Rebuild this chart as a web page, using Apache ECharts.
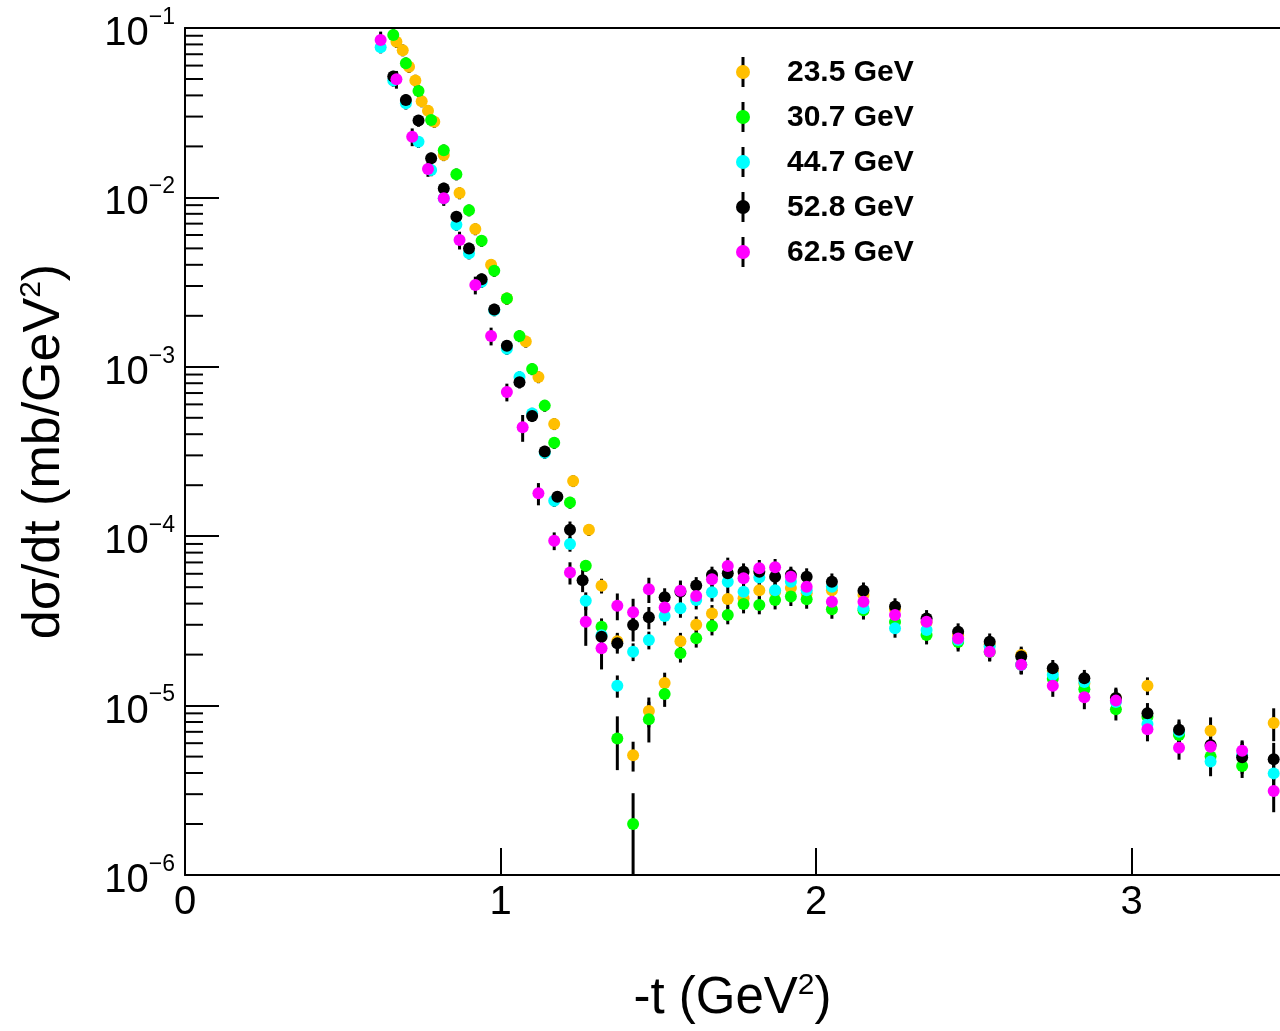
<!DOCTYPE html>
<html>
<head>
<meta charset="utf-8">
<script src="https://cdn.jsdelivr.net/npm/echarts@6/dist/echarts.min.js"></script>
<style>
  html, body { margin: 0; padding: 0; background: #fff; }
  #chart { width: 1280px; height: 1031px; }
</style>
</head>
<body>
<div id="chart"></div>
<script>
// energies and colours (legend order = draw order)
const names = ["23.5 GeV", "30.7 GeV", "44.7 GeV", "52.8 GeV", "62.5 GeV"];
const colors = ["#ffbf00", "#00ff00", "#00ffff", "#000000", "#ff00ff"];

// -t (GeV^2), dsigma/dt (mb/GeV^2), relative error
const t235 = [0.67, 0.69, 0.71, 0.73, 0.75, 0.77, 0.79, 0.82, 0.87, 0.92, 0.97, 1.02,
  1.08, 1.12, 1.17, 1.23, 1.28, 1.32, 1.37, 1.42, 1.47, 1.52, 1.57, 1.62, 1.67, 1.72, 1.77,
  1.82, 1.87, 1.92, 1.97, 2.05, 2.15, 2.25, 2.35, 2.45, 2.55, 2.65, 2.75, 2.85, 2.95, 3.05,
  3.15, 3.25, 3.45];
const y235 = [8.3e-2, 7.4e-2, 5.9e-2, 4.9e-2, 3.7e-2, 3.25e-2, 2.8e-2, 1.78e-2, 1.06e-2, 6.5e-3, 4.0e-3, 2.53e-3,
  1.41e-3, 8.7e-4, 4.6e-4, 2.12e-4, 1.09e-4, 5.1e-5, 2.4e-5, 5.1e-6, 9.3e-6, 1.36e-5, 2.4e-5, 3.0e-5, 3.5e-5, 4.26e-5, 4.3e-5,
  4.8e-5, 4.7e-5, 4.94e-5, 4.6e-5, 4.8e-5, 4.5e-5, 3.7e-5, 3.1e-5, 2.6e-5, 2.3e-5, 1.99e-5, 1.6e-5, 1.35e-5, 1.1e-5, 1.31e-5,
  6.8e-6, 7.1e-6, 7.9e-6];
const e235 = [.08, .08, .08, .08, .08, .08, .08, .08, .08, .08, .08, .08,
  .08, .08, .08, .08, .08, .1, .12, .2, .2, .15, .12, .12, .12, .12, .12,
  .12, .12, .12, .12, .12, .12, .12, .12, .12, .12, .12, .12, .14, .14, .12,
  .15, .2, .22];

const t307 = [0.66, 0.70, 0.74, 0.78, 0.82, 0.86, 0.90, 0.94, 0.98, 1.02, 1.06, 1.10,
  1.14, 1.17, 1.22, 1.27, 1.32, 1.37, 1.42, 1.47, 1.52, 1.57, 1.62, 1.67, 1.72, 1.77, 1.82,
  1.87, 1.92, 1.97, 2.05, 2.15, 2.25, 2.35, 2.45, 2.55, 2.65, 2.75, 2.85, 2.95, 3.05, 3.15,
  3.25, 3.35];
const y307 = [9.1e-2, 6.2e-2, 4.25e-2, 2.86e-2, 1.9e-2, 1.37e-2, 8.4e-3, 5.55e-3, 3.69e-3, 2.53e-3, 1.52e-3, 9.7e-4,
  5.9e-4, 3.56e-4, 1.58e-4, 6.7e-5, 2.92e-5, 6.4e-6, 2.0e-6, 8.3e-6, 1.17e-5, 2.04e-5, 2.5e-5, 2.95e-5, 3.43e-5, 3.98e-5, 3.93e-5,
  4.2e-5, 4.4e-5, 4.24e-5, 3.7e-5, 3.66e-5, 3.12e-5, 2.61e-5, 2.37e-5, 2.07e-5, 1.74e-5, 1.44e-5, 1.25e-5, 9.5e-6, 8.6e-6, 6.7e-6,
  5.0e-6, 4.4e-6];
const e307 = [.08, .08, .08, .08, .08, .08, .08, .08, .08, .08, .08, .08,
  .08, .08, .08, .08, .12, .35, .52, .27, .16, .12, .12, .12, .12, .12, .12,
  .12, .12, .12, .12, .12, .12, .12, .12, .12, .12, .12, .12, .14, .14, .15,
  .15, .15];

const t447 = [0.62, 0.66, 0.70, 0.74, 0.78, 0.82, 0.86, 0.90, 0.94, 0.98, 1.02, 1.06,
  1.10, 1.14, 1.17, 1.22, 1.27, 1.32, 1.37, 1.42, 1.47, 1.52, 1.57, 1.62, 1.67, 1.72, 1.77,
  1.82, 1.87, 1.92, 1.97, 2.05, 2.15, 2.25, 2.35, 2.45, 2.55, 2.65, 2.75, 2.85, 2.95, 3.05,
  3.15, 3.25, 3.35, 3.45];
const y447 = [7.7e-2, 4.9e-2, 3.59e-2, 2.13e-2, 1.45e-2, 9.9e-3, 6.9e-3, 4.68e-3, 3.18e-3, 2.16e-3, 1.28e-3, 8.7e-4,
  5.3e-4, 3.11e-4, 1.62e-4, 9.0e-5, 4.16e-5, 2.6e-5, 1.31e-5, 2.08e-5, 2.44e-5, 3.38e-5, 3.75e-5, 4.2e-5, 4.67e-5, 5.38e-5, 4.7e-5,
  5.7e-5, 4.8e-5, 5.38e-5, 4.8e-5, 5.03e-5, 3.75e-5, 2.86e-5, 2.79e-5, 2.44e-5, 2.23e-5, 1.74e-5, 1.52e-5, 1.38e-5, 1.05e-5, 7.8e-6,
  7.0e-6, 4.67e-6, 5.1e-6, 3.98e-6];
const e447 = [.08, .08, .08, .08, .08, .08, .08, .08, .08, .08, .08, .08,
  .08, .08, .08, .1, .12, .15, .15, .12, .12, .12, .12, .12, .12, .12, .12,
  .12, .12, .12, .12, .12, .12, .12, .12, .12, .12, .12, .12, .14, .14, .15,
  .15, .18, .2, .25];

const t528 = [0.66, 0.70, 0.74, 0.78, 0.82, 0.86, 0.90, 0.94, 0.98, 1.02, 1.06, 1.10,
  1.14, 1.18, 1.22, 1.26, 1.32, 1.37, 1.42, 1.47, 1.52, 1.57, 1.62, 1.67, 1.72, 1.77, 1.82,
  1.87, 1.92, 1.97, 2.05, 2.15, 2.25, 2.35, 2.45, 2.55, 2.65, 2.75, 2.85, 2.95, 3.05, 3.15,
  3.25, 3.35, 3.45];
const y528 = [5.17e-2, 3.76e-2, 2.84e-2, 1.7e-2, 1.13e-2, 7.7e-3, 5.0e-3, 3.29e-3, 2.18e-3, 1.33e-3, 8.1e-4, 5.13e-4,
  3.16e-4, 1.71e-4, 1.09e-4, 5.5e-5, 2.55e-5, 2.33e-5, 2.99e-5, 3.32e-5, 4.36e-5, 4.7e-5, 5.12e-5, 5.9e-5, 6.04e-5, 6.17e-5, 6.17e-5,
  5.77e-5, 5.9e-5, 5.77e-5, 5.38e-5, 4.76e-5, 3.84e-5, 3.27e-5, 2.73e-5, 2.38e-5, 1.95e-5, 1.66e-5, 1.45e-5, 1.11e-5, 9.0e-6, 7.2e-6,
  5.85e-6, 4.95e-6, 4.82e-6];
const e528 = [.08, .08, .08, .08, .08, .08, .08, .08, .08, .08, .08, .08,
  .08, .08, .12, .15, .2, .13, .2, .15, .13, .12, .12, .12, .12, .12, .12,
  .12, .12, .12, .12, .12, .12, .12, .12, .12, .12, .12, .12, .15, .15, .15,
  .15, .2, .25];

const t625 = [0.62, 0.67, 0.72, 0.77, 0.82, 0.87, 0.92, 0.97, 1.02, 1.07, 1.12, 1.17,
  1.22, 1.27, 1.32, 1.37, 1.42, 1.47, 1.52, 1.57, 1.62, 1.67, 1.72, 1.77, 1.82, 1.87, 1.92,
  1.97, 2.05, 2.15, 2.25, 2.35, 2.45, 2.55, 2.65, 2.75, 2.85, 2.95, 3.05, 3.15, 3.25, 3.35,
  3.45];
const y625 = [8.5e-2, 4.98e-2, 2.28e-2, 1.47e-2, 9.9e-3, 5.6e-3, 3.04e-3, 1.52e-3, 7.1e-4, 4.4e-4, 1.79e-4, 9.4e-5,
  6.1e-5, 3.13e-5, 2.18e-5, 3.89e-5, 3.56e-5, 4.86e-5, 3.79e-5, 4.76e-5, 4.44e-5, 5.57e-5, 6.67e-5, 5.64e-5, 6.46e-5, 6.55e-5, 5.77e-5,
  5.03e-5, 4.1e-5, 4.1e-5, 3.43e-5, 3.13e-5, 2.49e-5, 2.08e-5, 1.74e-5, 1.31e-5, 1.12e-5, 1.07e-5, 7.24e-6, 5.64e-6, 5.71e-6, 5.42e-6,
  3.13e-6];
const e625 = [.12, .12, .12, .1, .1, .12, .12, .12, .12, .18, .15, .12,
  .15, .28, .25, .18, .2, .17, .15, .15, .12, .12, .12, .12, .12, .12, .12,
  .12, .12, .12, .12, .12, .12, .12, .12, .14, .15, .15, .15, .15, .15, .15,
  .25];

const tSets = [t235, t307, t447, t528, t625];
const ySets = [y235, y307, y447, y528, y625];
const eSets = [e235, e307, e447, e528, e625];

// axis ticks
const xTicks = [0, 1, 2, 3];
const xMin = 0, xMax = 3.47;
const yMin = 1e-6, yMax = 1e-1;
const minorMult = [2, 3, 4, 5, 6, 7, 8, 9];
const minorTicks = [];
for (let d = -6; d < -1; d++) {
  minorMult.forEach(m => minorTicks.push([0, m * Math.pow(10, d)]));
}

const font = "'Liberation Sans', Arial, Helvetica, sans-serif";

const series = [];
names.forEach((name, i) => {
  const pts = tSets[i].map((t, k) => [t, ySets[i][k], eSets[i][k]]);
  series.push({
    type: "custom",
    name: name + " err",
    coordinateSystem: "cartesian2d",
    clip: true,
    silent: true,
    data: pts,
    renderItem: (params, api) => {
      const x = api.value(0), y = api.value(1), e = api.value(2);
      const lo = api.coord([x, y * (1 - e)]);
      const hi = api.coord([x, y * (1 + e)]);
      return {
        type: "line",
        shape: { x1: lo[0], y1: lo[1], x2: hi[0], y2: hi[1] },
        style: { stroke: "#000", lineWidth: 3 },
      };
    },
  });
  series.push({
    type: "scatter",
    name: name,
    data: pts.map(p => [p[0], p[1]]),
    symbol: "circle",
    symbolSize: 12,
    itemStyle: { color: colors[i], opacity: 1 },
    silent: true,
  });
});

// minor ticks on the log axis (2..9 per decade)
series.push({
  type: "custom",
  coordinateSystem: "cartesian2d",
  silent: true,
  data: minorTicks,
  renderItem: (params, api) => {
    const p = api.coord([api.value(0), api.value(1)]);
    return {
      type: "line",
      shape: { x1: p[0], y1: p[1], x2: p[0] + 18, y2: p[1] },
      style: { stroke: "#000", lineWidth: 2 },
    };
  },
});

// legend drawn as graphic (black error bar + coloured dot + text)
const legendGraphic = [];
names.forEach((name, i) => {
  const cy = 72 + 45 * i;
  legendGraphic.push({
    type: "line",
    shape: { x1: 743, y1: cy - 15, x2: 743, y2: cy + 15 },
    style: { stroke: "#000", lineWidth: 3 },
    z: 100,
  });
  legendGraphic.push({
    type: "circle",
    shape: { cx: 743, cy: cy, r: 7 },
    style: { fill: colors[i] },
    z: 101,
  });
  legendGraphic.push({
    type: "text",
    x: 787,
    y: cy + 1,
    style: {
      text: name,
      font: "bold 30px " + font,
      fill: "#000",
      verticalAlign: "middle",
      align: "left",
    },
    z: 101,
  });
});

const option = {
  animation: false,
  backgroundColor: "#fff",
  textStyle: { fontFamily: font },
  grid: { left: 185, top: 28, right: 0, bottom: 156 },
  xAxis: [{
    type: "value",
    min: xMin, max: xMax, interval: 1,
    axisLine: { show: true, onZero: false, lineStyle: { color: "#000", width: 2 } },
    axisTick: { show: true, inside: true, length: 27, lineStyle: { color: "#000", width: 2 } },
    axisLabel: {
      color: "#000", fontSize: 40, margin: 8, fontFamily: font,
      showMaxLabel: false,
      formatter: v => (xTicks.includes(v) ? String(v) : ""),
    },
    splitLine: { show: false },
    name: "{n|-t (GeV}{s|2}{n|)}",
    nameLocation: "middle",
    nameGap: 96,
    nameTextStyle: {
      rich: {
        n: { fontSize: 51, fontFamily: font, color: "#000", lineHeight: 56 },
        s: { fontSize: 30, fontFamily: font, color: "#000", lineHeight: 30, verticalAlign: "top" },
      },
    },
  }, {
    // top frame line
    type: "value",
    position: "top",
    min: xMin, max: xMax,
    axisLine: { show: true, onZero: false, lineStyle: { color: "#000", width: 2 } },
    axisTick: { show: false },
    axisLabel: { show: false },
    splitLine: { show: false },
  }],
  yAxis: {
    type: "log",
    logBase: 10,
    min: yMin, max: yMax,
    axisLine: { show: true, onZero: false, lineStyle: { color: "#000", width: 2 } },
    axisTick: { show: true, inside: true, length: 34, lineStyle: { color: "#000", width: 2 } },
    axisLabel: {
      color: "#000", margin: 10,
      formatter: v => {
        const p = Math.round(Math.log10(v));
        return "{b|10}{s|\u2212" + Math.abs(p) + "}";
      },
      rich: {
        b: { fontSize: 40, fontFamily: font, color: "#000", lineHeight: 44, padding: [12, 0, 0, 0] },
        s: { fontSize: 23, fontFamily: font, color: "#000", lineHeight: 23, verticalAlign: "top" },
      },
    },
    splitLine: { show: false },
    name: "{n|d\u03c3/dt (mb/GeV}{s|2}{n|)}",
    nameLocation: "middle",
    nameRotate: 90,
    nameGap: 112,
    nameTextStyle: {
      rich: {
        n: { fontSize: 52, fontFamily: font, color: "#000", lineHeight: 56 },
        s: { fontSize: 30, fontFamily: font, color: "#000", lineHeight: 30, verticalAlign: "top" },
      },
    },
  },
  graphic: legendGraphic,
  series: series,
};

const chart = echarts.init(document.getElementById("chart"), null, { renderer: "canvas" });
chart.setOption(option);
</script>
</body>
</html>
